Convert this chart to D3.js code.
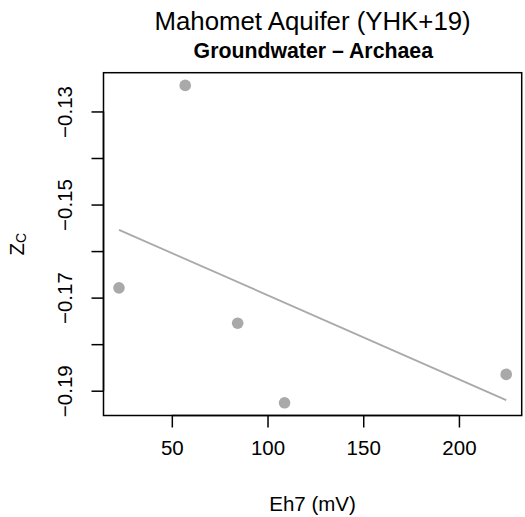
<!DOCTYPE html>
<html><head><meta charset="utf-8">
<script src="https://cdn.jsdelivr.net/npm/d3@7"></script>
<style>body{margin:0;background:#fff}svg{display:block}text{font-family:"Liberation Sans",Arial,sans-serif;fill:#000}</style>
</head><body>
<script>
const eh7 = [22.4, 57.0, 84.4, 108.9, 224.7];
const zc = [-0.1679, -0.1244, -0.1755, -0.1926, -0.1865];
const xTicks = [50, 100, 150, 200];
const yTicks = [-0.19, -0.18, -0.17, -0.16, -0.15, -0.14, -0.13];
const yTickLabels = ["-0.19", "", "-0.17", "", "-0.15", "", "-0.13"];
const mainTitle = "Mahomet Aquifer (YHK+19)";
const subTitle = "Groundwater \u2013 Archaea";
const xLabel = "Eh7 (mV)";

const W = 525, H = 517;
const L = 103.5, R = 521.7, T = 72.7, B = 415.5;
const svg = d3.select("body").append("svg").attr("width", W).attr("height", H);

// R-style 4% expanded domains
const xe = d3.extent(eh7), ye = d3.extent(zc);
const xp = (xe[1]-xe[0])*0.04, yp = (ye[1]-ye[0])*0.04;
const x = d3.scaleLinear().domain([xe[0]-xp, xe[1]+xp]).range([L, R]);
const y = d3.scaleLinear().domain([ye[0]-yp, ye[1]+yp]).range([B, T]);

const fs = 20.5;
const ff = "Liberation Sans, Arial, sans-serif";
// axes
const xa = svg.append("g").attr("transform", `translate(0,${B})`)
  .call(d3.axisBottom(x).tickValues(xTicks).tickSize(12).tickPadding(8).tickFormat(d3.format("d")));
xa.select(".domain").attr("d", `M${x(xTicks[0])},0H${x(xTicks[xTicks.length-1])}`);
xa.selectAll("text").attr("font-size", fs).attr("font-family", ff).attr("dy", "0.95em");
const ya = svg.append("g").attr("transform", `translate(${L},0)`)
  .call(d3.axisLeft(y).tickValues(yTicks).tickSize(12).tickFormat((d,i)=>yTickLabels[i].replace("-", "\u2212")));
ya.select(".domain").attr("d", `M0,${y(yTicks[0])}V${y(yTicks[yTicks.length-1])}`);
ya.selectAll("text").attr("font-size", fs).attr("font-family", ff)
  .attr("text-anchor", "middle").attr("x", 0).attr("y", 0).attr("dy", 0)
  .attr("transform", "translate(-31.5,0) rotate(-90)");
svg.selectAll(".tick line, .domain").attr("stroke", "#000").attr("stroke-width", 1.5);

// box
svg.append("rect").attr("x", L).attr("y", T).attr("width", R-L).attr("height", B-T)
  .attr("fill", "none").attr("stroke", "#000").attr("stroke-width", 1.5);

// regression line (least squares from the data)
const mx = d3.mean(eh7), my = d3.mean(zc);
let sxy = 0, sxx = 0;
eh7.forEach((v,i)=>{ sxy += (v-mx)*(zc[i]-my); sxx += (v-mx)*(v-mx); });
const slope = sxy/sxx, icpt = my - slope*mx;
const lineData = [xe[0], xe[1]].map(v => [v, icpt + slope*v]);
svg.append("path").datum(lineData)
  .attr("d", d3.line().x(d=>x(d[0])).y(d=>y(d[1])))
  .attr("stroke", "#a9a9a9").attr("stroke-width", 1.8).attr("fill", "none");

// points
svg.selectAll("circle.pt").data(eh7).join("circle").attr("class", "pt")
  .attr("cx", d => x(d)).attr("cy", (d,i) => y(zc[i])).attr("r", 5.8).attr("fill", "#a9a9a9");

// titles
const cx = (L+R)/2;
svg.append("text").attr("x", cx).attr("y", 29.5).attr("text-anchor", "middle").attr("font-size", 25.8).text(mainTitle);
svg.append("text").attr("x", cx+0.7).attr("y", 58.3).attr("text-anchor", "middle").attr("font-size", 21.3).attr("font-weight", "bold").text(subTitle);
svg.append("text").attr("x", cx).attr("y", 511).attr("text-anchor", "middle").attr("font-size", fs).text(xLabel);

// y label Z_C
const yl = svg.append("text").attr("transform", `translate(24,${(T+B)/2}) rotate(-90)`).attr("text-anchor", "middle").attr("font-size", fs);
yl.append("tspan").text("Z");
yl.append("tspan").attr("font-size", 14).attr("dy", 2).text("C");
</script>
</body></html>
